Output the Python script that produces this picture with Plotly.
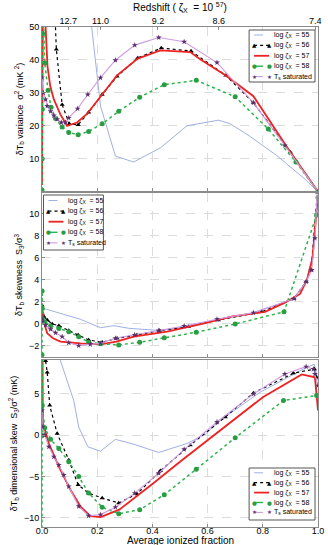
import plotly.graph_objects as go
from plotly.subplots import make_subplots

# ---------------- data ----------------
# panel 1: variance sigma^2 (mK^2)
var55_x = [0.15, 0.18, 0.212, 0.266, 0.332, 0.429, 0.525, 0.639, 0.68, 0.75, 0.85, 0.95, 1.0]
var55_y = [85, 50, 26, 10.8, 9.0, 13.3, 20.0, 21.7, 20.7, 17, 11, 4, 0]
var56_x = [0.03, 0.045, 0.052, 0.073, 0.099, 0.131, 0.169, 0.218, 0.272, 0.347, 0.432, 0.54, 0.666, 0.766, 0.9, 1.0]
var56_y = [90, 58, 43.2, 26.4, 20.6, 20.3, 24.1, 29.5, 35.0, 40.6, 43.6, 42.7, 35.3, 27, 12, 0]
var57_x = [0.0, 0.003, 0.008, 0.013, 0.02, 0.03, 0.043, 0.067, 0.091, 0.127, 0.163, 0.212, 0.272, 0.347, 0.429, 0.537, 0.573, 0.666, 0.766, 0.9, 1.0]
var57_y = [2, 70, 65, 50, 38, 32, 28, 23.4, 20.0, 21, 23.6, 29, 35.3, 40.4, 42.9, 42.4, 40.2, 35.3, 29, 12, 0]
var58_x = [0.0, 0.0005, 0.001, 0.002, 0.004, 0.01, 0.022, 0.033, 0.049, 0.073, 0.097, 0.131, 0.169, 0.218, 0.278, 0.354, 0.443, 0.559, 0.70, 0.82, 0.92, 1.0]
var58_y = [0.5, 10, 25, 48, 56, 39.1, 30.8, 25.6, 22.2, 19.6, 18.0, 17.3, 18.3, 20.6, 24.4, 28.7, 32.5, 33.8, 28.8, 19, 9, 0]
varTs_x = [0.0, 0.005, 0.013, 0.019, 0.031, 0.043, 0.055, 0.07, 0.085, 0.097, 0.129, 0.166, 0.212, 0.266, 0.336, 0.423, 0.515, 0.634, 0.766, 0.88, 1.0]
varTs_y = [34.7, 30, 28, 26, 24.4, 23.1, 22, 21, 21, 22.4, 25.2, 29.5, 34.6, 39.9, 44.5, 46.8, 45.5, 39.2, 27, 14, 0]

# panel 2: skewness S3/sigma^3
skw55_x = [0.001, 0.067, 0.139, 0.212, 0.26, 0.314, 0.43, 0.53, 0.64, 0.77, 0.91, 0.957, 0.98, 1.0]
skw55_y = [1.45, 0.97, 0.43, -0.34, -0.15, -0.39, -0.6, -0.2, 0.4, 1.0, 2.3, 3.8, 6.0, 11.7]
skw56_x = [0.0, 0.001, 0.007, 0.019, 0.037, 0.061, 0.097, 0.131, 0.169, 0.218, 0.272, 0.344, 0.426, 0.531, 0.639, 0.796, 0.913, 0.957, 0.975, 0.998]
skw56_y = [1.7, 0.97, 0.67, 0.36, 0.0, -0.15, -0.6, -1.0, -1.45, -1.66, -1.3, -1.0, -0.6, -0.24, 0.36, 1.1, 2.3, 3.85, 4.9, 12]
skw57_x = [0.0, 0.005, 0.019, 0.04, 0.067, 0.139, 0.212, 0.27, 0.332, 0.453, 0.58, 0.69, 0.808, 0.88, 0.935, 0.96, 0.98, 0.99, 1.0]
skw57_y = [1.6, 0.3, -0.85, -1.3, -1.6, -1.76, -1.85, -1.6, -1.15, -0.7, 0.0, 0.7, 1.1, 1.94, 2.73, 4.0, 6.0, 9.0, 11.7]
skw58_x = [0.0, 0.0002, 0.0005, 0.001, 0.01, 0.031, 0.061, 0.097, 0.133, 0.169, 0.212, 0.278, 0.354, 0.443, 0.559, 0.70, 0.877, 0.995, 1.0]
skw58_y = [-2.8, 0.2, 3.0, 1.4, 0.2, -0.18, -0.4, -0.7, -1.15, -1.66, -1.8, -1.9, -1.66, -1.25, -0.75, 0.0, 1.1, 9.9, 11.5]
skwTs_x = [0.0, 0.001, 0.013, 0.031, 0.049, 0.073, 0.097, 0.133, 0.175, 0.212, 0.266, 0.336, 0.423, 0.515, 0.634, 0.766, 0.913, 0.957, 0.977, 0.989, 0.997]
skwTs_y = [0.5, 0.2, -0.1, -0.48, -0.8, -1.15, -1.7, -1.97, -1.85, -1.76, -1.3, -1.0, -0.6, -0.18, 0.43, 1.03, 2.3, 3.85, 4.9, 7.8, 12]

# panel 3: dimensional skew S3/sigma^2 (mK)
dsk55_x = [0.04, 0.067, 0.115, 0.133, 0.166, 0.212, 0.266, 0.332, 0.423, 0.525, 0.591, 0.646, 0.79, 0.947, 0.987, 1.0]
dsk55_y = [20, 9, 4.2, 1.0, -1.4, -1.93, -0.5, -1.08, -2.09, -1.0, 0.1, 1.8, 5.2, 8.0, 8.6, 6.6]
dsk56_x = [0.0, 0.013, 0.019, 0.028, 0.055, 0.097, 0.131, 0.169, 0.218, 0.278, 0.344, 0.429, 0.537, 0.664, 0.766, 0.911, 0.987, 0.995]
dsk56_y = [30, 9.0, 7.6, 3.6, 0.2, -3.0, -6.0, -7.0, -7.6, -8.2, -7.1, -4.3, -1.2, 2.2, 5.1, 7.5, 8.0, 7.0]
dsk57_x = [0.0, 0.001, 0.003, 0.025, 0.061, 0.103, 0.139, 0.175, 0.212, 0.28, 0.4, 0.5, 0.6, 0.7, 0.8, 0.941, 0.989, 1.0]
dsk57_y = [30, 9, 1.5, -1.0, -3.8, -6.6, -8.6, -9.8, -9.9, -9.0, -5.9, -3.2, -0.6, 2.0, 4.6, 7.35, 7.0, 3.0]
dsk58_x = [0.0, 0.0002, 0.0005, 0.001, 0.01, 0.031, 0.061, 0.097, 0.133, 0.169, 0.218, 0.278, 0.354, 0.443, 0.559, 0.70, 0.875, 0.995]
dsk58_y = [-12, 0, 12, 3.6, 0.9, -0.5, -1.6, -3.2, -5.0, -7.0, -8.7, -9.5, -9.0, -7.2, -4.1, -0.3, 4.2, 4.8]
dskTs_x = [0.0, 0.001, 0.01, 0.025, 0.043, 0.061, 0.079, 0.097, 0.133, 0.169, 0.212, 0.266, 0.336, 0.423, 0.515, 0.634, 0.766, 0.88, 0.957, 0.983, 0.989, 1.0]
dskTs_y = [3.0, 1.0, 0.0, -1.4, -2.6, -3.6, -4.8, -6.2, -8.6, -9.75, -9.6, -8.7, -7.0, -4.6, -1.7, 1.6, 5.0, 7.4, 8.3, 8.0, 7.4, 6.0]

# top axis: redshift labels at ionized-fraction positions
z_pos = [0.095, 0.212, 0.42, 0.64, 0.99]
z_labels = ['12.7', '11.0', '9.2', '8.6', '7.4']

names = ['log ζ<sub>X</sub>  = 55', 'log ζ<sub>X</sub>  = 56', 'log ζ<sub>X</sub>  = 57',
         'log ζ<sub>X</sub>  = 58', 'T<sub>s</sub> saturated']

FONT = 'Liberation Sans, Arial, sans-serif'
GRID = '#dcdcdc'
FRAME = '#8a8a8a'

# plot area in page pixels (used to place the hand-made legends)
PX_L, PX_R, PX_T, PX_B = 41.5, 318, 27, 527

styles = [
    dict(mode='lines', line=dict(color='#9fb1e3', width=1)),
    dict(mode='lines+markers', line=dict(color='black', width=1.2, dash='dot'),
         marker=dict(symbol='triangle-up', size=4.5, color='black')),
    dict(mode='lines', line=dict(color='#ee2222', width=1.8)),
    dict(mode='lines+markers', line=dict(color='#2db34a', width=1.5, dash='dot'),
         marker=dict(symbol='circle', size=5, color='#2a9d44')),
    dict(mode='lines+markers', line=dict(color='#cf9be0', width=1.1),
         marker=dict(symbol='star', size=4.5, color='#5b2f6e')),
]
# legend sample look (matplotlib style: line with two end markers)
leg_look = [
    dict(color='#9fb1e3', dash='dash', width=1, glyph=None),
    dict(color='black', dash='dot', width=1.2, glyph='▲', gcolor='black'),
    dict(color='#ee2222', dash='solid', width=1.8, glyph=None),
    dict(color='#2db34a', dash='dash', width=1.4, glyph='●', gcolor='#2a9d44'),
    dict(color='#cf9be0', dash='dash', width=1.1, glyph='★', gcolor='#5b2f6e'),
]

panels = [
    [(var55_x, var55_y), (var56_x, var56_y), (var57_x, var57_y), (var58_x, var58_y), (varTs_x, varTs_y)],
    [(skw55_x, skw55_y), (skw56_x, skw56_y), (skw57_x, skw57_y), (skw58_x, skw58_y), (skwTs_x, skwTs_y)],
    [(dsk55_x, dsk55_y), (dsk56_x, dsk56_y), (dsk57_x, dsk57_y), (dsk58_x, dsk58_y), (dskTs_x, dskTs_y)],
]

fig = make_subplots(rows=3, cols=1, shared_xaxes=True, vertical_spacing=0.005)

for r, series in enumerate(panels, start=1):
    for i, (xs, ys) in enumerate(series):
        fig.add_trace(go.Scatter(x=xs, y=ys, name=names[i], showlegend=False,
                                 **styles[i]), row=r, col=1)

# invisible trace so the redshift axis on top gets drawn
fig.add_trace(go.Scatter(x=[0.5], y=[25], mode='markers', marker=dict(opacity=0),
                         xaxis='x4', yaxis='y', showlegend=False, hoverinfo='skip'))


def px_x(px):
    return (px - PX_L) / (PX_R - PX_L)


def px_y(py):
    return (PX_B - py) / (PX_B - PX_T)


def add_legend(bx, by, w, h, row_gap, first):
    """matplotlib-like boxed legend drawn with shapes + annotations (page px)."""
    fig.add_shape(type='rect', xref='paper', yref='paper',
                  x0=px_x(bx), x1=px_x(bx + w), y0=px_y(by + h), y1=px_y(by),
                  line=dict(color='#555555', width=1), fillcolor='white', layer='above')
    for i, lk in enumerate(leg_look):
        yc = by + first + i * row_gap
        fig.add_shape(type='line', xref='paper', yref='paper',
                      x0=px_x(bx + 5), x1=px_x(bx + 20), y0=px_y(yc), y1=px_y(yc),
                      line=dict(color=lk['color'], width=lk['width'], dash=lk['dash']))
        if lk['glyph']:
            for gx in (bx + 5, bx + 20):
                fig.add_annotation(x=px_x(gx), y=px_y(yc), xref='paper', yref='paper',
                                   text=lk['glyph'], showarrow=False,
                                   font=dict(size=5.5, color=lk['gcolor'], family='DejaVu Sans'),
                                   xanchor='center', yanchor='middle')
        fig.add_annotation(x=px_x(bx + 23), y=px_y(yc), xref='paper', yref='paper',
                           text=names[i], showarrow=False, align='left',
                           font=dict(size=7, color='black', family=FONT),
                           xanchor='left', yanchor='middle')


add_legend(249, 30, 66, 52, 10.4, 5)
add_legend(43, 195, 60, 55, 10.6, 5.5)
add_legend(249, 468, 66, 52, 9.9, 4.8)

axis_common = dict(showline=True, linecolor=FRAME, linewidth=1, mirror=True,
                   showgrid=True, gridcolor=GRID, griddash='dash', gridwidth=1,
                   zeroline=False, ticks='inside', ticklen=3, tickcolor=FRAME,
                   tickfont=dict(size=9, color='black', family=FONT))

fig.update_xaxes(range=[0, 1], dtick=0.2, **axis_common)
fig.update_xaxes(showticklabels=False, row=1, col=1)
fig.update_xaxes(showticklabels=False, row=2, col=1)
fig.update_xaxes(tickformat='.1f', ticklabelstandoff=-5, row=3, col=1)
fig.update_yaxes(**axis_common)

ytitle_font = dict(size=9, family=FONT, color='black')
fig.update_yaxes(range=[0.2, 50], tickvals=[10, 20, 30, 40, 50], domain=[0.672, 1.0],
                 title=dict(text='δT<sub>b</sub> variance  σ<sup>2</sup> (mK <sup>2</sup>)', standoff=4, font=ytitle_font),
                 row=1, col=1)
fig.update_yaxes(range=[-3, 11.9], tickvals=[-2, 0, 2, 4, 6, 8, 10], domain=[0.34, 0.668],
                 title=dict(text='δT<sub>b</sub> skewness  S<sub>3</sub>/σ<sup>3</sup>', standoff=4, font=ytitle_font),
                 row=2, col=1)
fig.update_yaxes(range=[-11.1, 9.1], tickvals=[-10, -5, 0, 5], domain=[0.0, 0.334],
                 title=dict(text='δT<sub>b</sub> dimensional skew  S<sub>3</sub>/σ<sup>2</sup> (mK)', standoff=4, font=ytitle_font),
                 row=3, col=1)

fig.add_annotation(x=0.5, y=px_y(540.5), xref='paper', yref='paper',
                   text='Average ionized fraction', showarrow=False,
                   font=dict(size=10, family=FONT, color='black'),
                   xanchor='center', yanchor='middle')

fig.update_layout(
    width=328, height=545,
    margin=dict(l=41.5, r=10, t=27, b=18, autoexpand=False),
    plot_bgcolor='white', paper_bgcolor='white',
    font=dict(family=FONT, color='black'),
    showlegend=False,
    xaxis4=dict(overlaying='x', anchor='y', side='top', range=[0, 1],
                tickvals=z_pos, ticktext=z_labels, showgrid=False, zeroline=False,
                ticks='inside', ticklen=3, tickcolor=FRAME,
                tickfont=dict(size=9, color='black', family=FONT),
                title=dict(text='Redshift ( ζ<sub>X</sub>  = 10 <sup>57</sup>)', standoff=2,
                           font=dict(size=10, family=FONT, color='black'))),
)

# page body has a default 8px margin; drop it so the figure sits at the window origin
fig.write_html("out.html", config={'displayModeBar': False},
               post_script="document.body.style.margin='0';")
